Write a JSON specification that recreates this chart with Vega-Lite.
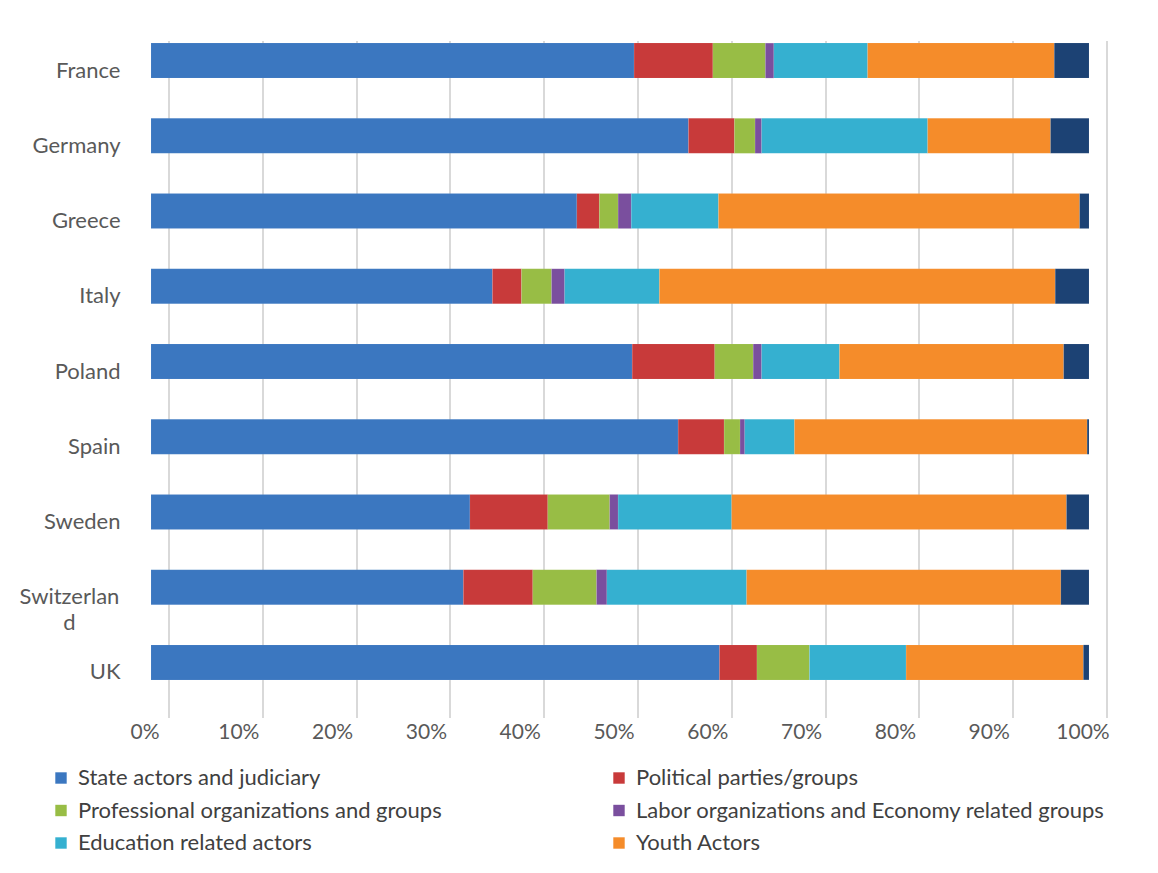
{
  "$schema": "https://vega.github.io/schema/vega-lite/v6.json",
  "width": 938,
  "height": 677,
  "autosize": "none",
  "padding": {"left": 151, "top": 23, "right": 69, "bottom": 173},
  "background": "white",
  "config": {"view": {"stroke": null}, "font": "Lato"},
  "data": {"values": [
    {"country": "France", "group": "State actors and judiciary", "k": 1, "v": 51.5},
    {"country": "France", "group": " Political parties/groups", "k": 2, "v": 8.4},
    {"country": "France", "group": "Professional organizations and groups", "k": 3, "v": 5.6},
    {"country": "France", "group": "Labor organizations and Economy related groups", "k": 4, "v": 0.9},
    {"country": "France", "group": "Education related actors", "k": 5, "v": 10.0},
    {"country": "France", "group": "Youth Actors", "k": 6, "v": 19.9},
    {"country": "France", "group": "Other", "k": 7, "v": 3.7},
    {"country": "Germany", "group": "State actors and judiciary", "k": 1, "v": 57.3},
    {"country": "Germany", "group": " Political parties/groups", "k": 2, "v": 4.9},
    {"country": "Germany", "group": "Professional organizations and groups", "k": 3, "v": 2.2},
    {"country": "Germany", "group": "Labor organizations and Economy related groups", "k": 4, "v": 0.7},
    {"country": "Germany", "group": "Education related actors", "k": 5, "v": 17.7},
    {"country": "Germany", "group": "Youth Actors", "k": 6, "v": 13.1},
    {"country": "Germany", "group": "Other", "k": 7, "v": 4.1},
    {"country": "Greece", "group": "State actors and judiciary", "k": 1, "v": 45.4},
    {"country": "Greece", "group": " Political parties/groups", "k": 2, "v": 2.4},
    {"country": "Greece", "group": "Professional organizations and groups", "k": 3, "v": 2.0},
    {"country": "Greece", "group": "Labor organizations and Economy related groups", "k": 4, "v": 1.4},
    {"country": "Greece", "group": "Education related actors", "k": 5, "v": 9.3},
    {"country": "Greece", "group": "Youth Actors", "k": 6, "v": 38.5},
    {"country": "Greece", "group": "Other", "k": 7, "v": 1.0},
    {"country": "Italy", "group": "State actors and judiciary", "k": 1, "v": 36.4},
    {"country": "Italy", "group": " Political parties/groups", "k": 2, "v": 3.1},
    {"country": "Italy", "group": "Professional organizations and groups", "k": 3, "v": 3.2},
    {"country": "Italy", "group": "Labor organizations and Economy related groups", "k": 4, "v": 1.4},
    {"country": "Italy", "group": "Education related actors", "k": 5, "v": 10.1},
    {"country": "Italy", "group": "Youth Actors", "k": 6, "v": 42.2},
    {"country": "Italy", "group": "Other", "k": 7, "v": 3.6},
    {"country": "Poland", "group": "State actors and judiciary", "k": 1, "v": 51.3},
    {"country": "Poland", "group": " Political parties/groups", "k": 2, "v": 8.8},
    {"country": "Poland", "group": "Professional organizations and groups", "k": 3, "v": 4.1},
    {"country": "Poland", "group": "Labor organizations and Economy related groups", "k": 4, "v": 0.9},
    {"country": "Poland", "group": "Education related actors", "k": 5, "v": 8.3},
    {"country": "Poland", "group": "Youth Actors", "k": 6, "v": 23.9},
    {"country": "Poland", "group": "Other", "k": 7, "v": 2.7},
    {"country": "Spain", "group": "State actors and judiciary", "k": 1, "v": 56.2},
    {"country": "Spain", "group": " Political parties/groups", "k": 2, "v": 4.9},
    {"country": "Spain", "group": "Professional organizations and groups", "k": 3, "v": 1.7},
    {"country": "Spain", "group": "Labor organizations and Economy related groups", "k": 4, "v": 0.5},
    {"country": "Spain", "group": "Education related actors", "k": 5, "v": 5.3},
    {"country": "Spain", "group": "Youth Actors", "k": 6, "v": 31.2},
    {"country": "Spain", "group": "Other", "k": 7, "v": 0.2},
    {"country": "Sweden", "group": "State actors and judiciary", "k": 1, "v": 34.0},
    {"country": "Sweden", "group": " Political parties/groups", "k": 2, "v": 8.3},
    {"country": "Sweden", "group": "Professional organizations and groups", "k": 3, "v": 6.6},
    {"country": "Sweden", "group": "Labor organizations and Economy related groups", "k": 4, "v": 0.9},
    {"country": "Sweden", "group": "Education related actors", "k": 5, "v": 12.1},
    {"country": "Sweden", "group": "Youth Actors", "k": 6, "v": 35.7},
    {"country": "Sweden", "group": "Other", "k": 7, "v": 2.4},
    {"country": "Switzerland", "group": "State actors and judiciary", "k": 1, "v": 33.3},
    {"country": "Switzerland", "group": " Political parties/groups", "k": 2, "v": 7.4},
    {"country": "Switzerland", "group": "Professional organizations and groups", "k": 3, "v": 6.8},
    {"country": "Switzerland", "group": "Labor organizations and Economy related groups", "k": 4, "v": 1.1},
    {"country": "Switzerland", "group": "Education related actors", "k": 5, "v": 14.9},
    {"country": "Switzerland", "group": "Youth Actors", "k": 6, "v": 33.5},
    {"country": "Switzerland", "group": "Other", "k": 7, "v": 3.0},
    {"country": "UK", "group": "State actors and judiciary", "k": 1, "v": 60.6},
    {"country": "UK", "group": " Political parties/groups", "k": 2, "v": 4.0},
    {"country": "UK", "group": "Professional organizations and groups", "k": 3, "v": 5.6},
    {"country": "UK", "group": "Labor organizations and Economy related groups", "k": 4, "v": 0.0},
    {"country": "UK", "group": "Education related actors", "k": 5, "v": 10.3},
    {"country": "UK", "group": "Youth Actors", "k": 6, "v": 18.9},
    {"country": "UK", "group": "Other", "k": 7, "v": 0.6}
  ]},
  "mark": {"type": "bar", "stroke": "#ffffff", "strokeOpacity": 0.15, "strokeWidth": 0.5},
  "encoding": {
    "y": {
      "field": "country", "type": "nominal", "sort": null,
      "scale": {"paddingInner": 0.535, "paddingOuter": 0.2675},
      "axis": {
        "title": null, "domain": false, "ticks": false, "labelOffset": 10,
        "labelPadding": {"condition": {"test": "datum.label == 'Switzerland'", "value": 82}, "value": 31},
        "labelAlign": {"condition": {"test": "datum.label == 'Switzerland'", "value": "center"}, "value": "right"},
        "labelFontSize": 22, "labelColor": "#595959", "labelFont": "Lato", "labelLineHeight": 26,
        "labelExpr": "datum.label == 'Switzerland' ? ['Switzerlan', 'd'] : datum.label"
      }
    },
    "x": {
      "field": "v", "type": "quantitative", "stack": "normalize",
      "scale": {"domain": [0, 1], "nice": false},
      "axis": {
        "title": null, "format": "%", "values": [0, 0.1, 0.2, 0.3, 0.4, 0.5, 0.6, 0.7, 0.8, 0.9, 1],
        "domain": false, "ticks": false, "gridColor": "#D9D9D9", "gridWidth": 2,
        "labelFontSize": 21, "labelColor": "#595959", "labelPadding": 4, "labelFont": "Lato",
        "labelFlush": false, "labelOverlap": false, "labelBound": false,
        "translate": 18, "labelOffset": -24
      }
    },
    "color": {
      "field": "group", "type": "nominal",
      "scale": {
        "domain": ["State actors and judiciary", " Political parties/groups", "Professional organizations and groups", "Labor organizations and Economy related groups", "Education related actors", "Youth Actors", "Other"],
        "range": ["#3B77C0", "#C83A3A", "#98BD45", "#7A4F9E", "#35B0D0", "#F58C2A", "#1C4274"]
      },
      "legend": {
        "title": null, "orient": "none", "legendX": -101, "legendY": 744,
        "direction": "vertical", "columns": 2, "columnPadding": 166, "rowPadding": 10.5,
        "values": ["State actors and judiciary", "Professional organizations and groups", "Education related actors", " Political parties/groups", "Labor organizations and Economy related groups", "Youth Actors"],
        "symbolType": "square", "symbolSize": 130, "symbolStrokeWidth": 0,
        "labelFontSize": 22, "labelColor": "#404040", "labelFont": "Lato", "labelOffset": 6, "labelLimit": 600
      }
    },
    "order": {"field": "k", "type": "quantitative"}
  }
}
